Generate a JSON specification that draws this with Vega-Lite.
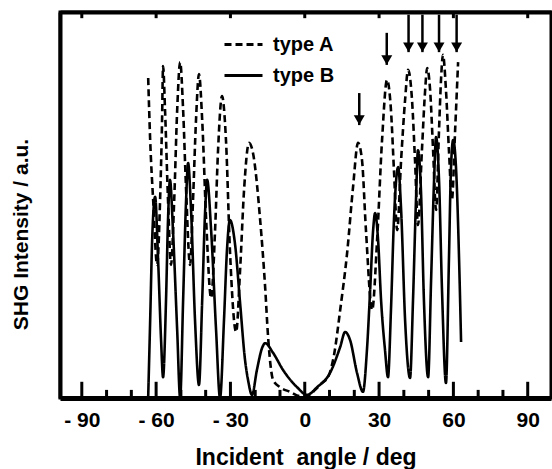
{
  "$schema": "https://vega.github.io/schema/vega-lite/v6.json",
  "width": 491,
  "height": 386,
  "autosize": "none",
  "padding": {"left": 60, "top": 12, "right": 1, "bottom": 71},
  "background": "white",
  "config": {
    "view": {"stroke": "black", "strokeWidth": 3},
    "font": "Liberation Sans",
    "axis": {"labelFont": "Liberation Sans", "titleFont": "Liberation Sans", "labelFontWeight": "bold", "titleFontWeight": "bold", "labelColor": "black", "titleColor": "black", "tickColor": "black", "domainColor": "black", "grid": false}
  },
  "datasets": {
    "curves": [
      {"angle": -63.2, "intensity": 82.9, "type": "type A"},
      {"angle": -62.4, "intensity": 66.8, "type": "type A"},
      {"angle": -61.2, "intensity": 51.3, "type": "type A"},
      {"angle": -59.6, "intensity": 34.5, "type": "type A"},
      {"angle": -58.4, "intensity": 51.3, "type": "type A"},
      {"angle": -57.6, "intensity": 72.0, "type": "type A"},
      {"angle": -57.2, "intensity": 86.0, "type": "type A"},
      {"angle": -56.4, "intensity": 74.6, "type": "type A"},
      {"angle": -55.2, "intensity": 51.3, "type": "type A"},
      {"angle": -54.0, "intensity": 34.5, "type": "type A"},
      {"angle": -52.7, "intensity": 51.3, "type": "type A"},
      {"angle": -51.5, "intensity": 74.6, "type": "type A"},
      {"angle": -50.3, "intensity": 87.0, "type": "type A"},
      {"angle": -49.1, "intensity": 74.6, "type": "type A"},
      {"angle": -47.9, "intensity": 53.9, "type": "type A"},
      {"angle": -46.3, "intensity": 34.5, "type": "type A"},
      {"angle": -45.1, "intensity": 51.3, "type": "type A"},
      {"angle": -43.9, "intensity": 72.0, "type": "type A"},
      {"angle": -42.7, "intensity": 83.9, "type": "type A"},
      {"angle": -41.4, "intensity": 72.0, "type": "type A"},
      {"angle": -39.8, "intensity": 46.1, "type": "type A"},
      {"angle": -37.8, "intensity": 25.9, "type": "type A"},
      {"angle": -36.2, "intensity": 43.5, "type": "type A"},
      {"angle": -35.0, "intensity": 64.2, "type": "type A"},
      {"angle": -33.4, "intensity": 78.2, "type": "type A"},
      {"angle": -31.8, "intensity": 66.8, "type": "type A"},
      {"angle": -30.2, "intensity": 38.3, "type": "type A"},
      {"angle": -27.7, "intensity": 17.1, "type": "type A"},
      {"angle": -26.1, "intensity": 33.2, "type": "type A"},
      {"angle": -24.5, "intensity": 53.9, "type": "type A"},
      {"angle": -22.5, "intensity": 66.1, "type": "type A"},
      {"angle": -20.9, "intensity": 63.5, "type": "type A"},
      {"angle": -18.0, "intensity": 46.1, "type": "type A"},
      {"angle": -16.0, "intensity": 28.8, "type": "type A"},
      {"angle": -14.8, "intensity": 15.8, "type": "type A"},
      {"angle": -12.8, "intensity": 4.7, "type": "type A"},
      {"angle": -10.0, "intensity": 2.8, "type": "type A"},
      {"angle": -5.9, "intensity": 1.6, "type": "type A"},
      {"angle": -1.9, "intensity": 0.5, "type": "type A"},
      {"angle": 0.9, "intensity": 0.5, "type": "type A"},
      {"angle": 4.2, "intensity": 2.1, "type": "type A"},
      {"angle": 7.0, "intensity": 3.9, "type": "type A"},
      {"angle": 9.4, "intensity": 5.4, "type": "type A"},
      {"angle": 11.8, "intensity": 11.1, "type": "type A"},
      {"angle": 14.3, "intensity": 22.8, "type": "type A"},
      {"angle": 17.1, "intensity": 37.6, "type": "type A"},
      {"angle": 19.5, "intensity": 54.7, "type": "type A"},
      {"angle": 21.5, "intensity": 66.1, "type": "type A"},
      {"angle": 23.1, "intensity": 61.7, "type": "type A"},
      {"angle": 24.7, "intensity": 43.5, "type": "type A"},
      {"angle": 27.2, "intensity": 22.8, "type": "type A"},
      {"angle": 29.2, "intensity": 40.9, "type": "type A"},
      {"angle": 31.2, "intensity": 66.8, "type": "type A"},
      {"angle": 33.2, "intensity": 82.4, "type": "type A"},
      {"angle": 34.8, "intensity": 74.6, "type": "type A"},
      {"angle": 36.0, "intensity": 59.1, "type": "type A"},
      {"angle": 37.3, "intensity": 43.5, "type": "type A"},
      {"angle": 38.9, "intensity": 61.7, "type": "type A"},
      {"angle": 40.5, "intensity": 77.2, "type": "type A"},
      {"angle": 41.7, "intensity": 85.0, "type": "type A"},
      {"angle": 43.3, "intensity": 77.2, "type": "type A"},
      {"angle": 44.5, "intensity": 61.7, "type": "type A"},
      {"angle": 45.7, "intensity": 44.8, "type": "type A"},
      {"angle": 47.3, "intensity": 64.2, "type": "type A"},
      {"angle": 48.6, "intensity": 79.8, "type": "type A"},
      {"angle": 49.4, "intensity": 85.5, "type": "type A"},
      {"angle": 50.6, "intensity": 79.8, "type": "type A"},
      {"angle": 51.8, "intensity": 64.2, "type": "type A"},
      {"angle": 53.0, "intensity": 48.7, "type": "type A"},
      {"angle": 54.2, "intensity": 69.4, "type": "type A"},
      {"angle": 55.0, "intensity": 82.4, "type": "type A"},
      {"angle": 55.8, "intensity": 88.9, "type": "type A"},
      {"angle": 57.0, "intensity": 79.8, "type": "type A"},
      {"angle": 58.2, "intensity": 64.2, "type": "type A"},
      {"angle": 59.4, "intensity": 51.3, "type": "type A"},
      {"angle": 60.7, "intensity": 69.4, "type": "type A"},
      {"angle": 61.9, "intensity": 87.0, "type": "type A"},
      {"angle": -63.2, "intensity": 0.3, "type": "type B"},
      {"angle": -62.4, "intensity": 20.2, "type": "type B"},
      {"angle": -61.6, "intensity": 40.9, "type": "type B"},
      {"angle": -60.4, "intensity": 52.1, "type": "type B"},
      {"angle": -59.2, "intensity": 35.8, "type": "type B"},
      {"angle": -58.0, "intensity": 15.0, "type": "type B"},
      {"angle": -57.2, "intensity": 5.4, "type": "type B"},
      {"angle": -56.0, "intensity": 25.4, "type": "type B"},
      {"angle": -55.2, "intensity": 46.1, "type": "type B"},
      {"angle": -54.4, "intensity": 56.5, "type": "type B"},
      {"angle": -53.2, "intensity": 43.5, "type": "type B"},
      {"angle": -51.5, "intensity": 17.6, "type": "type B"},
      {"angle": -50.3, "intensity": 0.0, "type": "type B"},
      {"angle": -49.1, "intensity": 25.4, "type": "type B"},
      {"angle": -47.9, "intensity": 51.3, "type": "type B"},
      {"angle": -47.1, "intensity": 60.9, "type": "type B"},
      {"angle": -45.9, "intensity": 48.7, "type": "type B"},
      {"angle": -44.3, "intensity": 20.2, "type": "type B"},
      {"angle": -42.7, "intensity": 3.4, "type": "type B"},
      {"angle": -41.4, "intensity": 25.4, "type": "type B"},
      {"angle": -40.2, "intensity": 48.7, "type": "type B"},
      {"angle": -39.4, "intensity": 56.5, "type": "type B"},
      {"angle": -37.8, "intensity": 43.5, "type": "type B"},
      {"angle": -35.8, "intensity": 17.6, "type": "type B"},
      {"angle": -34.2, "intensity": 0.0, "type": "type B"},
      {"angle": -32.6, "intensity": 20.2, "type": "type B"},
      {"angle": -31.4, "intensity": 38.3, "type": "type B"},
      {"angle": -30.2, "intensity": 46.1, "type": "type B"},
      {"angle": -28.1, "intensity": 39.6, "type": "type B"},
      {"angle": -26.1, "intensity": 24.6, "type": "type B"},
      {"angle": -24.1, "intensity": 9.8, "type": "type B"},
      {"angle": -22.9, "intensity": 4.7, "type": "type B"},
      {"angle": -21.3, "intensity": 0.8, "type": "type B"},
      {"angle": -19.3, "intensity": 7.3, "type": "type B"},
      {"angle": -17.2, "intensity": 13.0, "type": "type B"},
      {"angle": -16.0, "intensity": 14.2, "type": "type B"},
      {"angle": -12.8, "intensity": 11.7, "type": "type B"},
      {"angle": -8.8, "intensity": 7.3, "type": "type B"},
      {"angle": -3.1, "intensity": 2.8, "type": "type B"},
      {"angle": 0.9, "intensity": 0.8, "type": "type B"},
      {"angle": 5.0, "intensity": 2.8, "type": "type B"},
      {"angle": 10.2, "intensity": 6.5, "type": "type B"},
      {"angle": 14.3, "intensity": 13.2, "type": "type B"},
      {"angle": 16.3, "intensity": 17.1, "type": "type B"},
      {"angle": 18.3, "intensity": 15.0, "type": "type B"},
      {"angle": 21.1, "intensity": 6.5, "type": "type B"},
      {"angle": 23.5, "intensity": 1.6, "type": "type B"},
      {"angle": 25.1, "intensity": 12.4, "type": "type B"},
      {"angle": 26.4, "intensity": 28.0, "type": "type B"},
      {"angle": 27.6, "intensity": 43.5, "type": "type B"},
      {"angle": 28.4, "intensity": 47.9, "type": "type B"},
      {"angle": 29.6, "intensity": 40.9, "type": "type B"},
      {"angle": 30.8, "intensity": 25.4, "type": "type B"},
      {"angle": 32.4, "intensity": 12.4, "type": "type B"},
      {"angle": 33.6, "intensity": 5.4, "type": "type B"},
      {"angle": 34.8, "intensity": 22.8, "type": "type B"},
      {"angle": 36.0, "intensity": 46.1, "type": "type B"},
      {"angle": 37.7, "intensity": 59.8, "type": "type B"},
      {"angle": 38.9, "intensity": 48.7, "type": "type B"},
      {"angle": 40.5, "intensity": 20.2, "type": "type B"},
      {"angle": 42.5, "intensity": 5.2, "type": "type B"},
      {"angle": 43.7, "intensity": 25.4, "type": "type B"},
      {"angle": 44.9, "intensity": 51.3, "type": "type B"},
      {"angle": 45.7, "intensity": 64.2, "type": "type B"},
      {"angle": 46.9, "intensity": 53.9, "type": "type B"},
      {"angle": 48.1, "intensity": 25.4, "type": "type B"},
      {"angle": 49.8, "intensity": 5.4, "type": "type B"},
      {"angle": 51.0, "intensity": 30.6, "type": "type B"},
      {"angle": 52.2, "intensity": 56.5, "type": "type B"},
      {"angle": 53.0, "intensity": 67.6, "type": "type B"},
      {"angle": 54.2, "intensity": 56.5, "type": "type B"},
      {"angle": 55.4, "intensity": 28.0, "type": "type B"},
      {"angle": 57.0, "intensity": 3.9, "type": "type B"},
      {"angle": 58.2, "intensity": 35.8, "type": "type B"},
      {"angle": 59.0, "intensity": 59.1, "type": "type B"},
      {"angle": 59.9, "intensity": 66.8, "type": "type B"},
      {"angle": 61.1, "intensity": 59.1, "type": "type B"},
      {"angle": 62.3, "intensity": 35.8, "type": "type B"},
      {"angle": 63.1, "intensity": 14.5, "type": "type B"}
    ],
    "arrows": [
      {"angle": 22.0, "intensity": 70.7, "top": 79.0},
      {"angle": 33.1, "intensity": 86.3, "top": 94.6},
      {"angle": 41.9, "intensity": 89.6, "top": 99.3},
      {"angle": 47.5, "intensity": 89.6, "top": 99.3},
      {"angle": 54.2, "intensity": 89.6, "top": 99.3},
      {"angle": 61.3, "intensity": 89.6, "top": 99.3}
    ],
    "axisticks": [
      {"angle": -90, "kind": "major"},
      {"angle": -80, "kind": "minor"},
      {"angle": -70, "kind": "minor"},
      {"angle": -60, "kind": "major"},
      {"angle": -50, "kind": "minor"},
      {"angle": -40, "kind": "minor"},
      {"angle": -30, "kind": "major"},
      {"angle": -20, "kind": "minor"},
      {"angle": -10, "kind": "minor"},
      {"angle": 0, "kind": "major"},
      {"angle": 10, "kind": "minor"},
      {"angle": 20, "kind": "minor"},
      {"angle": 30, "kind": "major"},
      {"angle": 40, "kind": "minor"},
      {"angle": 50, "kind": "minor"},
      {"angle": 60, "kind": "major"},
      {"angle": 70, "kind": "minor"},
      {"angle": 80, "kind": "minor"},
      {"angle": 90, "kind": "major"}
    ]
  },
  "resolve": {"axis": {"x": "independent", "y": "independent"}},
  "layer": [
    {
      "data": {"name": "curves"},
      "transform": [{"filter": "datum.type == 'type A'"}],
      "mark": {"type": "line", "color": "black", "strokeWidth": 2.6, "interpolate": "monotone", "clip": true},
      "encoding": {
        "x": {
          "field": "angle", "type": "quantitative",
          "scale": {"domain": [-98.8, 99.4], "nice": false, "zero": false},
          "axis": {
            "orient": "bottom",
            "values": [-90, -60, -30, 0, 30, 60, 90],
            "labelExpr": "datum.value < 0 ? '- ' + abs(datum.value) : '' + datum.value",
            "ticks": false,
            "domainWidth": 5,
            "labelFontSize": 21,
            "labelBaseline": "alphabetic",
            "labelPadding": 28,
            "labelFlush": false,
            "labelOverlap": false,
            "title": "Incident\u00a0 angle / deg",
            "titleFontSize": 23,
            "titleBaseline": "alphabetic",
            "titleY": 66
          }
        },
        "y": {
          "field": "intensity", "type": "quantitative",
          "scale": {"domain": [0, 100], "nice": false, "zero": false},
          "axis": {"orient": "left", "title": "SHG Intensity / a.u.", "labels": false, "ticks": false, "domain": true, "domainWidth": 4, "titleFontSize": 21, "titleX": -33, "titleY": 222, "titleBaseline": "alphabetic", "titleAlign": "center"}
        },
        "strokeDash": {
          "field": "type", "type": "nominal",
          "scale": {"domain": ["type A", "type B"], "range": [[7, 4], [1, 0]]},
          "legend": {
            "title": null, "orient": "none", "legendX": 163, "legendY": 12,
            "symbolType": "stroke", "symbolSize": 1444, "symbolStrokeWidth": 3, "symbolStrokeColor": "black",
            "labelFontSize": 20, "labelFontWeight": "bold", "labelFont": "Liberation Sans", "labelColor": "black",
            "labelOffset": 9, "rowPadding": 0
          }
        }
      }
    },
    {
      "data": {"name": "curves"},
      "transform": [{"filter": "datum.type == 'type B'"}],
      "mark": {"type": "line", "color": "black", "strokeWidth": 2.6, "interpolate": "monotone", "clip": true},
      "encoding": {
        "x": {"field": "angle", "type": "quantitative", "axis": null},
        "y": {"field": "intensity", "type": "quantitative", "axis": null},
        "strokeDash": {"field": "type", "type": "nominal"}
      }
    },
    {
      "data": {"name": "arrows"},
      "mark": {"type": "rule", "color": "black", "strokeWidth": 2.5},
      "encoding": {
        "x": {
          "field": "angle", "type": "quantitative",
          "axis": {"orient": "top", "labels": false, "ticks": false, "domain": true, "domainWidth": 4, "title": null}
        },
        "y": {"field": "intensity", "type": "quantitative", "axis": null},
        "y2": {"field": "top"}
      }
    },
    {
      "data": {"name": "arrows"},
      "mark": {"type": "point", "shape": "triangle-down", "filled": true, "color": "black", "opacity": 1, "size": 120, "yOffset": -5},
      "encoding": {
        "x": {"field": "angle", "type": "quantitative", "axis": null},
        "y": {"field": "intensity", "type": "quantitative", "axis": null}
      }
    },
    {
      "data": {"name": "axisticks"},
      "transform": [{"filter": "datum.kind == 'major'"}],
      "mark": {"type": "rule", "color": "black", "strokeWidth": 3},
      "encoding": {
        "x": {"field": "angle", "type": "quantitative", "axis": null},
        "y": {"datum": 0, "type": "quantitative", "axis": null},
        "y2": {"datum": 4.2}
      }
    },
    {
      "data": {"name": "axisticks"},
      "transform": [{"filter": "datum.kind == 'minor'"}],
      "mark": {"type": "rule", "color": "black", "strokeWidth": 3},
      "encoding": {
        "x": {"field": "angle", "type": "quantitative", "axis": null},
        "y": {"datum": 0, "type": "quantitative", "axis": null},
        "y2": {"datum": 2.1}
      }
    },
    {
      "data": {"name": "axisticks"},
      "transform": [{"filter": "datum.kind == 'major'"}],
      "mark": {"type": "rule", "color": "black", "strokeWidth": 3},
      "encoding": {
        "x": {"field": "angle", "type": "quantitative", "axis": null},
        "y": {"datum": 100, "type": "quantitative", "axis": null},
        "y2": {"datum": 98.4}
      }
    }
  ]
}
